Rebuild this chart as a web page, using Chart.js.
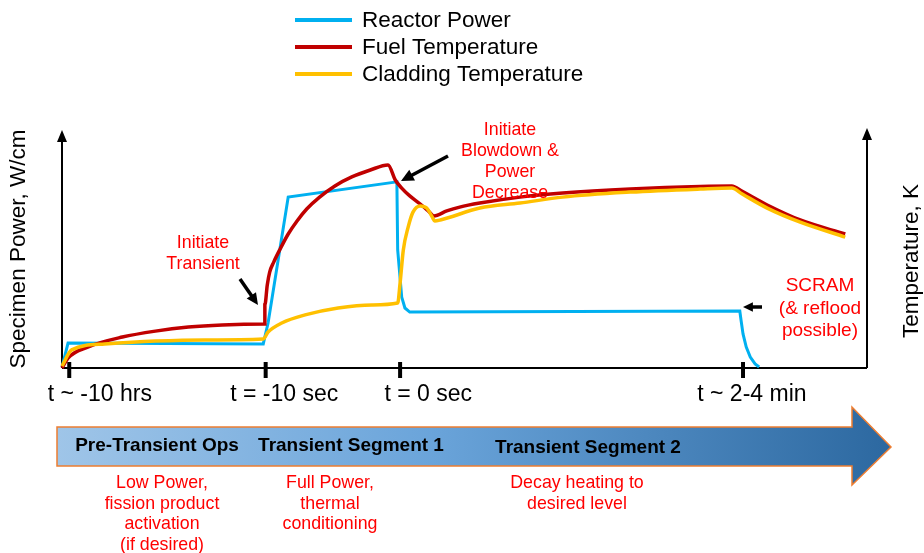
<!DOCTYPE html>
<html>
<head>
<meta charset="utf-8">
<script src="https://cdn.jsdelivr.net/npm/chart.js@4/dist/chart.umd.min.js"></script>
<style>
  body { margin: 0; background: #fff; }
</style>
</head>
<body>
<canvas id="chart" width="924" height="553"></canvas>
<script>
// schematic units: time 0..100 across the axis, level 0..100 up the axis
const seriesNames = ['Reactor Power', 'Fuel Temperature', 'Cladding Temperature'];
const seriesColors = ['#00B0F0', '#C00000', '#FFC000'];

const powerX = [0, 0.75, 25.0, 25.6, 28.1, 41.6, 41.7, 42.2, 42.6, 43.2, 84.2, 84.35, 84.6, 85.0, 85.5, 86.1, 86.6];
const powerY = [0.4, 10.5, 10.1, 18.9, 71.8, 78.2, 49.6, 29.8, 25.2, 23.5, 23.9, 20.2, 14.3, 8.8, 4.6, 1.7, 0.4];

const fuelX = [0, 0.75, 3.2, 7.5, 11.6, 15.7, 19.9, 25.2, 25.2, 25.5, 25.8, 26.3, 27.1, 28.1, 29.2, 30.4, 32.0, 33.9, 36.0, 38.3, 40.5,
  41.4, 42.2, 43.2, 44.5, 45.5, 46.2, 47.8, 49.4, 51.9, 56.9, 62.2, 70.6, 79.3, 83.2, 84.5, 87.6, 91.7, 97.3];
const fuelY = [0, 4.2, 8.8, 13.0, 15.5, 17.2, 18.1, 18.5, 26.5, 34.9, 40.3, 44.5, 50.0, 56.3, 61.8, 66.8, 71.8, 76.5, 80.3, 83.2, 85.3,
  79.0, 75.6, 72.3, 68.9, 66.0, 63.9, 66.0, 67.6, 69.3, 71.8, 73.5, 75.2, 76.3, 76.5, 74.2, 68.5, 62.2, 56.3];

const cladX = [0, 1.2, 5.3, 11.6, 17.8, 25.0, 25.6, 27.3, 30.2, 34.3, 38.5, 41.7, 42.0, 42.4, 43.0, 43.6, 44.5, 45.3, 46.0,
  46.3, 47.0, 51.9, 56.9, 62.2, 70.6, 79.3, 83.2, 84.5, 87.6, 91.7, 97.3];
const cladY = [0.8, 7.6, 10.1, 11.3, 11.8, 12.2, 15.1, 18.9, 22.3, 25.2, 26.5, 27.3, 35.7, 49.6, 59.2, 65.5, 68.1, 67.2, 63.4,
  61.8, 62.2, 67.2, 69.3, 71.8, 73.9, 75.2, 75.6, 73.1, 67.2, 61.3, 55.0];

const tickAt = [0.9, 25.3, 42.0, 84.6];
const tickLabels = ['t ~ -10 hrs', 't = -10 sec', 't = 0 sec', 't ~ 2-4 min'];
const tickLabelAt = [4.7, 27.6, 45.5, 85.7];

const phaseTitles = ['Pre-Transient Ops', 'Transient Segment 1', 'Transient Segment 2'];
const phaseNotes = [
  ['Low Power,', 'fission product', 'activation', '(if desired)'],
  ['Full Power,', 'thermal', 'conditioning'],
  ['Decay heating to', 'desired level']
];

const FONT = '"Liberation Sans", Arial, sans-serif';

function pts(xs, ys) {
  return xs.map((x, i) => ({ x: x, y: ys[i] }));
}

function arrow(ctx, x1, y1, x2, y2, head) {
  const a = Math.atan2(y2 - y1, x2 - x1);
  ctx.beginPath();
  ctx.moveTo(x1, y1);
  ctx.lineTo(x2 - Math.cos(a) * head * 0.8, y2 - Math.sin(a) * head * 0.8);
  ctx.stroke();
  ctx.beginPath();
  ctx.moveTo(x2, y2);
  ctx.lineTo(x2 - head * Math.cos(a - 0.45), y2 - head * Math.sin(a - 0.45));
  ctx.lineTo(x2 - head * Math.cos(a + 0.45), y2 - head * Math.sin(a + 0.45));
  ctx.closePath();
  ctx.fill();
}

function lines(ctx, arr, x, y, step) {
  arr.forEach((t, i) => ctx.fillText(t, x, y + i * step));
}

const axesPlugin = {
  id: 'axes',
  beforeDatasetsDraw(chart) {
    const ctx = chart.ctx;
    const a = chart.chartArea;
    const xs = chart.scales.x;
    ctx.save();
    ctx.strokeStyle = '#000';
    ctx.fillStyle = '#000';
    ctx.lineWidth = 2;
    ctx.beginPath();
    ctx.moveTo(a.left, a.bottom);
    ctx.lineTo(a.right, a.bottom);
    ctx.moveTo(a.left, a.bottom);
    ctx.lineTo(a.left, a.top + 10);
    ctx.moveTo(a.right, a.bottom);
    ctx.lineTo(a.right, a.top + 8);
    ctx.stroke();
    [[a.left, a.top], [a.right, a.top - 2]].forEach(p => {
      ctx.beginPath();
      ctx.moveTo(p[0], p[1]);
      ctx.lineTo(p[0] - 5, p[1] + 12);
      ctx.lineTo(p[0] + 5, p[1] + 12);
      ctx.closePath();
      ctx.fill();
    });
    ctx.lineWidth = 4;
    tickAt.forEach(v => {
      const px = xs.getPixelForValue(v);
      ctx.beginPath();
      ctx.moveTo(px, a.bottom - 6);
      ctx.lineTo(px, a.bottom + 10);
      ctx.stroke();
    });
    ctx.restore();
  },
  afterDraw(chart) {
    const ctx = chart.ctx;
    const a = chart.chartArea;
    const xs = chart.scales.x;
    ctx.save();

    // legend
    ctx.font = '22.5px ' + FONT;
    ctx.textBaseline = 'middle';
    ctx.textAlign = 'left';
    seriesNames.forEach((n, i) => {
      const y = 20 + i * 27;
      ctx.strokeStyle = seriesColors[i];
      ctx.lineWidth = 4;
      ctx.beginPath();
      ctx.moveTo(295, y);
      ctx.lineTo(352, y);
      ctx.stroke();
      ctx.fillStyle = '#000';
      ctx.fillText(n, 362, y + 1);
    });

    // axis titles
    ctx.font = '22.5px ' + FONT;
    ctx.textAlign = 'center';
    ctx.save();
    ctx.translate(19, 249);
    ctx.rotate(-Math.PI / 2);
    ctx.fillText('Specimen Power, W/cm', 0, 0);
    ctx.restore();
    ctx.save();
    ctx.translate(912, 261);
    ctx.rotate(-Math.PI / 2);
    ctx.fillText('Temperature, K', 0, 0);
    ctx.restore();

    // time labels
    ctx.font = '23px ' + FONT;
    tickLabels.forEach((t, i) => {
      ctx.fillText(t, xs.getPixelForValue(tickLabelAt[i]), a.bottom + 27);
    });

    // callouts
    ctx.fillStyle = '#FF0000';
    ctx.font = '17.8px ' + FONT;
    lines(ctx, ['Initiate', 'Transient'], 203, 243, 21);
    lines(ctx, ['Initiate', 'Blowdown &', 'Power', 'Decrease'], 510, 130, 21);
    ctx.font = '19px ' + FONT;
    lines(ctx, ['SCRAM', '(& reflood', 'possible)'], 820, 286, 22.5);
    ctx.fillStyle = '#000';
    ctx.strokeStyle = '#000';
    ctx.lineWidth = 3.5;
    arrow(ctx, 240, 279, 258, 305, 13);
    arrow(ctx, 448, 156, 401, 181, 14);
    arrow(ctx, 762, 307, 743, 307, 11);

    // phase arrow
    const g = ctx.createLinearGradient(57, 0, 891, 0);
    g.addColorStop(0, '#9FC5E8');
    g.addColorStop(0.45, '#6AA4DA');
    g.addColorStop(1, '#2C68A0');
    ctx.beginPath();
    ctx.moveTo(57, 427);
    ctx.lineTo(852, 427);
    ctx.lineTo(852, 407);
    ctx.lineTo(891, 447);
    ctx.lineTo(852, 485);
    ctx.lineTo(852, 466);
    ctx.lineTo(57, 466);
    ctx.closePath();
    ctx.fillStyle = g;
    ctx.fill();
    ctx.strokeStyle = '#ED7D31';
    ctx.lineWidth = 1.5;
    ctx.stroke();

    ctx.fillStyle = '#000';
    ctx.font = 'bold 19px ' + FONT;
    const titleX = [157, 351, 588];
    const titleY = [446, 446, 448];
    phaseTitles.forEach((t, i) => ctx.fillText(t, titleX[i], titleY[i]));

    ctx.fillStyle = '#FF0000';
    ctx.font = '17.8px ' + FONT;
    const noteX = [162, 330, 577];
    phaseNotes.forEach((n, i) => lines(ctx, n, noteX[i], 483, 20.7));
    ctx.restore();
  }
};

const ctx = document.querySelector('#chart').getContext('2d');
const myChart = new Chart(ctx, {
  type: 'line',
  data: {
    datasets: [
      { label: seriesNames[0], data: pts(powerX, powerY), borderColor: seriesColors[0], borderWidth: 3, tension: 0, order: 3 },
      { label: seriesNames[1], data: pts(fuelX, fuelY), borderColor: seriesColors[1], borderWidth: 3.5, cubicInterpolationMode: 'monotone', order: 2 },
      { label: seriesNames[2], data: pts(cladX, cladY), borderColor: seriesColors[2], borderWidth: 3.5, cubicInterpolationMode: 'monotone', order: 1 }
    ]
  },
  options: {
    responsive: false,
    animation: false,
    events: [],
    clip: false,
    elements: { point: { radius: 0 } },
    layout: { padding: { left: 62, right: 57, top: 130, bottom: 185 } },
    scales: {
      x: { type: 'linear', min: 0, max: 100, display: false },
      y: { type: 'linear', min: 0, max: 100, display: false }
    },
    plugins: {
      legend: { display: false },
      tooltip: { enabled: false }
    }
  },
  plugins: [axesPlugin]
});
</script>
</body>
</html>
